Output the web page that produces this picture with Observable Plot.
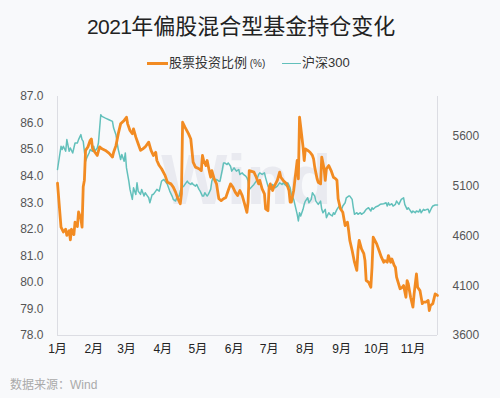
<!DOCTYPE html>
<html><head><meta charset="utf-8">
<script src="https://cdn.jsdelivr.net/npm/d3@7"></script>
<script src="https://cdn.jsdelivr.net/npm/@observablehq/plot@0.6"></script>
<style>
html,body{margin:0;padding:0;background:#fff;}
#chart{position:relative;width:500px;height:398px;background:#f8f9fb;overflow:hidden;font-family:"Liberation Sans","Noto Sans CJK SC",sans-serif;}
#title{position:absolute;left:87px;top:13px;font-size:22px;line-height:22px;color:#222;white-space:nowrap;}
#title .num{font-size:21px;letter-spacing:-0.6px;}
#title .cjk{letter-spacing:0px;font-family:"Noto Sans CJK SC",sans-serif;}
.lg{position:absolute;font-size:13px;line-height:16px;color:#333;top:55px;white-space:nowrap;}
.lg small{font-size:10px;}
.sw{position:absolute;}
#src{position:absolute;left:10px;top:377px;font-size:12px;line-height:16px;color:#aaa;}
#plot{position:absolute;left:0;top:80px;}
</style></head>
<body>
<div id="chart">
  <div id="title"><span class="num">2021</span><span class="cjk">年偏股混合型基金持仓变化</span></div>
  <div class="sw" style="left:147px;top:61.5px;width:21px;height:3px;background:#f28b22"></div>
  <div class="lg" style="left:169px">股票投资比例<small> (%)</small></div>
  <div class="sw" style="left:282px;top:62.5px;width:19px;height:1.5px;background:#62c0bb"></div>
  <div class="lg" style="left:302px">沪深300</div>
  <div id="plot"></div>
  <div id="src">数据来源：Wind</div>
</div>
<script>
const seriesNames = ["股票投资比例(%)", "沪深300"];
const monthLabels = ["1月","2月","3月","4月","5月","6月","7月","8月","9月","10月","11月"];
const monthStarts = ["01-01","02-01","03-01","04-01","05-01","06-01","07-01","08-01","09-01","10-01","11-01"];
const leftTicks = [78, 79, 80, 81, 82, 83, 84, 85, 86, 87];
const rightTicks = [3600, 4100, 4600, 5100, 5600];
const leftDomain = [78, 87];
const rightDomain = [3600, 6000];
const xDomain = ["01-01", "11-22"];

const stockDates = ["01-01","01-04","01-06","01-08","01-09","01-11","01-12","01-13","01-15","01-16","01-18","01-19","01-21","01-22","01-23","01-24","01-25","01-27","01-29","01-30","01-31",
"02-02","02-04","02-06","02-08","02-11","02-14","02-17","02-18","02-20","02-22","02-24","02-27",
"03-01","03-02","03-04","03-06","03-07","03-09","03-11","03-13","03-15","03-17","03-20","03-22","03-24","03-26","03-27","03-29","03-31",
"04-03","04-05","04-08","04-10","04-12","04-14","04-16","04-17","04-18","04-20","04-23","04-25","04-27","04-29",
"05-02","05-04","05-05","05-06","05-08","05-09","05-11","05-12","05-13","05-15","05-17","05-19","05-21","05-23","05-25","05-27","05-29","05-31",
"06-02","06-04","06-06","06-08","06-10","06-12","06-13","06-14","06-18","06-20","06-22","06-23","06-25","06-27","06-28","06-30",
"07-01","07-02","07-04","07-05","07-08","07-10","07-11","07-13","07-16","07-18","07-19","07-20","07-22","07-23","07-25","07-26","07-27","07-28","07-30","07-31",
"08-01","08-03","08-05","08-07","08-08","08-09","08-11","08-12","08-14","08-15","08-17","08-18","08-19","08-21","08-23","08-25","08-27","08-28","08-29","08-31",
"09-02","09-04","09-06","09-07","09-08","09-10","09-12","09-14","09-15","09-16","09-18","09-20","09-21","09-22","09-24","09-26","09-27","09-28",
"10-01","10-03","10-05","10-07","10-08","10-10","10-11","10-13","10-14","10-16","10-17","10-18","10-21","10-23","10-24","10-26","10-27","10-28","10-30",
"11-01","11-02","11-04","11-05","11-07","11-09","11-10","11-12","11-14","11-15","11-16","11-18","11-20","11-22"];
const stockValues = [83.74,82.08,81.9,82.0,81.77,81.95,81.6,82.0,81.8,82.27,82.1,82.65,82.4,82.08,83.6,83.85,84.97,85.1,85.35,85.4,85.03,
84.9,84.78,85.1,85.03,84.97,84.87,84.72,84.9,85.15,85.6,85.97,86.1,
86.22,85.97,85.72,85.6,85.78,85.47,85.22,84.97,85.03,85.1,85.28,84.97,84.78,84.9,84.59,84.4,84.28,
84.03,83.77,83.71,83.59,83.4,83.15,82.96,83.33,86.03,85.85,85.6,85.4,84.53,84.34,
84.28,84.21,84.78,84.59,84.4,84.59,84.15,83.96,84.21,83.9,83.71,83.15,83.08,83.15,83.2,83.46,83.71,83.59,
83.4,83.27,83.46,83.27,82.96,82.64,83.02,84.21,84.15,83.96,83.71,83.84,83.52,83.33,82.77,82.7,
83.59,83.71,83.46,83.59,83.84,84.15,83.96,83.84,83.71,83.46,83.02,83.02,83.46,83.84,84.59,83.9,86.22,85.85,85.1,84.59,
85.03,84.97,84.9,84.78,84.65,84.34,83.9,83.77,83.71,84.72,84.28,83.84,84.28,84.4,84.21,83.96,83.9,83.84,83.15,82.77,
82.64,82.14,82.27,81.95,81.58,81.2,80.76,80.45,81.2,81.58,81.26,81.08,80.82,80.07,80.01,79.82,80.57,81.7,
81.45,81.2,80.95,80.76,80.82,80.76,81.01,80.76,80.88,80.64,80.57,80.2,79.76,79.82,79.88,79.44,80.07,79.95,79.44,
79.07,79.57,80.32,79.82,79.69,79.2,79.26,79.26,79.32,78.94,79.13,79.2,79.57,79.51];

const hsDates = ["01-01","01-04","01-05","01-06","01-08","01-09","01-11","01-12","01-14","01-15","01-16","01-18","01-19","01-21","01-22","01-23","01-25","01-26","01-28","01-29","01-31",
"02-01","02-02","02-04","02-05","02-07","02-08","02-11","02-14","02-17","02-18","02-20","02-21","02-22","02-24","02-25","02-27","02-28",
"03-01","03-03","03-04","03-06","03-07","03-09","03-10","03-11","03-13","03-14","03-16","03-17","03-19","03-20","03-21","03-23","03-24","03-26","03-27","03-29","03-30","03-31",
"04-02","04-03","04-05","04-06","04-07","04-09","04-10","04-12","04-13","04-15","04-16","04-17","04-19","04-20","04-22","04-23","04-25","04-26","04-27","04-29","04-30",
"05-02","05-03","05-05","05-06","05-07","05-09","05-10","05-12","05-13","05-14","05-16","05-17","05-19","05-20","05-22","05-23","05-24","05-26","05-27","05-29","05-30",
"06-01","06-02","06-03","06-05","06-06","06-08","06-09","06-11","06-12","06-13","06-14","06-18","06-20","06-22","06-23","06-25","06-27","06-28","06-30",
"07-02","07-04","07-06","07-08","07-10","07-12","07-13","07-16","07-17","07-19","07-20","07-22","07-23","07-25","07-26","07-27","07-28","07-30","07-31",
"08-01","08-03","08-04","08-06","08-07","08-09","08-10","08-12","08-14","08-15","08-16","08-18","08-19","08-21","08-22","08-24","08-25","08-26","08-28","08-30",
"09-01","09-02","09-04","09-05","09-07","09-08","09-10","09-11","09-12","09-14","09-15","09-17","09-18","09-20","09-21","09-22","09-24","09-26","09-27","09-28","09-30",
"10-02","10-04","10-07","10-09","10-10","10-11","10-12","10-14","10-15","10-17","10-18","10-20","10-22","10-24","10-25","10-27","10-28","10-29","10-31",
"11-01","11-03","11-04","11-06","11-07","11-08","11-10","11-11","11-13","11-14","11-15","11-17","11-18","11-20","11-22"];
const hsValues = [5267,5500,5467,5500,5450,5567,5450,5483,5433,5483,5533,5533,5567,5617,5567,5550,5350,5383,5433,5467,5450,
5500,5450,5483,5533,5817,5800,5783,5767,5750,5683,5617,5533,5467,5367,5417,5350,5433,
5283,5150,5067,4967,5083,5017,5133,5050,5017,5067,5000,5033,5000,4983,4933,5017,5017,5050,5067,5050,5100,5150,
5167,5150,5117,5083,5050,5000,4967,4950,4983,5000,5050,5083,5100,5117,5150,5133,5117,5133,5117,5100,5117,
5067,5050,5000,5000,5033,5000,5017,5067,5150,5183,5150,5167,5150,5150,5267,5333,5333,5317,5333,5300,5250,
5283,5267,5250,5267,5217,5233,5217,5200,5183,5150,5067,5117,5150,5217,5233,5217,5233,5183,5100,
5067,5117,5083,5100,5133,5117,5133,5100,5133,5083,5017,4967,4917,4817,4750,4833,4800,4867,4917,
4950,4983,4933,4967,5033,5000,4950,4917,4950,4867,4833,4867,4783,4833,4817,4800,4833,4817,4867,4900,
4867,4900,4933,4983,5000,5000,4967,4883,4817,4833,4817,4833,4817,4833,4850,4867,4883,4850,4883,4867,4890,
4900,4917,4923,4933,4900,4933,4910,4923,4900,4917,4950,4917,4967,4983,4917,4867,4883,4867,4833,
4850,4833,4850,4840,4867,4833,4867,4857,4867,4867,4833,4883,4900,4910,4910];

const parse = s => { const [m, d] = s.split("-").map(Number); return new Date(Date.UTC(2021, m - 1, d)); };
const toLeft = v => leftDomain[0] + (v - rightDomain[0]) / (rightDomain[1] - rightDomain[0]) * (leftDomain[1] - leftDomain[0]);
const fromLeft = y => rightDomain[0] + (y - leftDomain[0]) / (leftDomain[1] - leftDomain[0]) * (rightDomain[1] - rightDomain[0]);

const stock = stockDates.map((d, i) => ({date: parse(d), value: stockValues[i]}));
const hs = hsDates.map((d, i) => ({date: parse(d), value: toLeft(hsValues[i])}));
const ticks = monthStarts.map(parse);
const xd = xDomain.map(parse);

const chart = Plot.plot({
  width: 500,
  height: 290,
  marginTop: 16,
  marginBottom: 35,
  marginLeft: 57,
  marginRight: 63,
  style: {fontFamily: '"Liberation Sans","Noto Sans CJK SC",sans-serif', fontSize: "12px", background: "transparent", overflow: "visible"},
  x: {type: "utc", domain: xd, label: null},
  y: {domain: leftDomain, label: null},
  marks: [
    Plot.text(["Wind"], {frameAnchor: "middle", dy: -34, dx: -1, fontSize: 70, fontWeight: "bold", fill: "#e9eaf0"}),
    Plot.ruleX(xd, {stroke: "#dcdde3", strokeWidth: 1}),
    Plot.ruleY([leftDomain[0]], {stroke: "#dcdde3", strokeWidth: 1}),
    Plot.axisX(ticks, {tickSize: 0, tickPadding: 9, fill: "#222", fontSize: 12, label: null, tickFormat: d => monthLabels[d.getUTCMonth()]}),
    Plot.axisY(leftTicks, {anchor: "left", tickSize: 0, tickPadding: 14, fill: "#555", fontSize: 12, label: null, tickFormat: d => d.toFixed(1)}),
    Plot.axisY(rightTicks.map(toLeft), {anchor: "right", tickSize: 0, tickPadding: 15, fill: "#555", fontSize: 12, label: null, textAnchor: "start", tickFormat: d => String(Math.round(fromLeft(d)))}),
    Plot.lineY(hs, {x: "date", y: "value", stroke: "#62c0bb", strokeWidth: 1.5, strokeLinejoin: "round"}),
    Plot.lineY(stock, {x: "date", y: "value", stroke: "#f28b22", strokeWidth: 2.8, strokeLinejoin: "round"})
  ]
});
document.getElementById("plot").appendChild(chart);
</script>
</body></html>
